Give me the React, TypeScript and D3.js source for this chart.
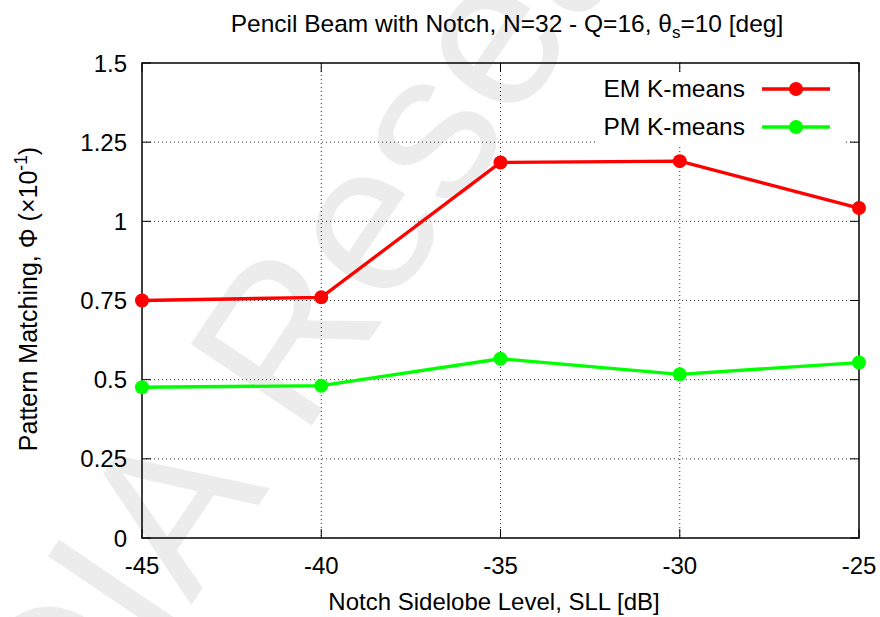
import React from "react";
import * as d3 from "d3";

const xValues = [-45, -40, -35, -30, -25];
const emValues = [0.75, 0.76, 1.186, 1.19, 1.042];
const pmValues = [0.476, 0.481, 0.566, 0.517, 0.554];
const xTicks = [-45, -40, -35, -30, -25];
const yTicks = [0, 0.25, 0.5, 0.75, 1, 1.25, 1.5];
const yTickLabels = ["0", "0.25", "0.5", "0.75", "1", "1.25", "1.5"];
const seriesNames = ["EM K-means", "PM K-means"];
const seriesColors = ["#ff0000", "#00ff00"];

const W = 880;
const H = 617;
const m = { left: 142, right: 859, top: 63, bottom: 538 };
const FONT = "'Liberation Sans', Arial, Helvetica, sans-serif";

export default function App() {
  const x = d3.scaleLinear().domain([-45, -25]).range([m.left, m.right]);
  const y = d3.scaleLinear().domain([0, 1.5]).range([m.bottom, m.top]);
  const line = d3
    .line<number>()
    .x((_, i) => x(xValues[i]))
    .y((d) => y(d));
  const series = [emValues, pmValues];
  const tickLen = 9;

  return (
    <svg
      width={W}
      height={H}
      style={{ position: "absolute", left: 0, top: 0, background: "#fff" }}
      fontFamily={FONT}
    >
      <rect x={0} y={0} width={W} height={H} fill="#fff" />
      {/* watermark */}
      <text
        transform="translate(302,440) rotate(-56)"
        fontSize={212}
        fill="#ececec"
        fontFamily={FONT}
      >
        Research
      </text>
      <text
        transform="translate(270,488) rotate(-56)"
        fontSize={212}
        fill="#ececec"
        textAnchor="end"
        fontFamily={FONT}
      >
        ELEDIA
      </text>

      {/* grid */}
      <g stroke="#333" strokeWidth={1} strokeDasharray="1,3">
        {xTicks.slice(1, -1).map((t) => (
          <line key={"gx" + t} x1={x(t)} x2={x(t)} y1={m.top} y2={m.bottom} />
        ))}
        {yTicks.slice(1, -1).map((t) => (
          <line key={"gy" + t} x1={m.left} x2={m.right} y1={y(t)} y2={y(t)} />
        ))}
      </g>

      {/* legend background */}
      <rect x={597} y={72} width={248} height={73} fill="#fff" />

      {/* ticks */}
      <g stroke="#000" strokeWidth={1}>
        {xTicks.map((t) => (
          <g key={"tx" + t}>
            <line x1={x(t)} x2={x(t)} y1={m.bottom} y2={m.bottom - tickLen} />
            <line x1={x(t)} x2={x(t)} y1={m.top} y2={m.top + tickLen} />
          </g>
        ))}
        {yTicks.map((t) => (
          <g key={"ty" + t}>
            <line x1={m.left} x2={m.left + tickLen} y1={y(t)} y2={y(t)} />
            <line x1={m.right} x2={m.right - tickLen} y1={y(t)} y2={y(t)} />
          </g>
        ))}
      </g>

      {/* frame */}
      <rect
        x={m.left}
        y={m.top}
        width={m.right - m.left}
        height={m.bottom - m.top}
        fill="none"
        stroke="#000"
        strokeWidth={1.5}
      />

      {/* tick labels */}
      <g fontSize={24} fill="#000">
        {xTicks.map((t) => (
          <text key={"lx" + t} x={x(t)} y={574} textAnchor="middle">
            {t}
          </text>
        ))}
        {yTicks.map((t, i) => (
          <text key={"ly" + t} x={127} y={y(t) + 8.5} textAnchor="end">
            {yTickLabels[i]}
          </text>
        ))}
      </g>

      {/* series */}
      {series.map((s, si) => (
        <g key={"s" + si}>
          <path d={line(s) || ""} fill="none" stroke={seriesColors[si]} strokeWidth={3.3} />
          {s.map((v, i) => (
            <circle key={i} cx={x(xValues[i])} cy={y(v)} r={7} fill={seriesColors[si]} />
          ))}
        </g>
      ))}

      {/* legend */}
      {seriesNames.map((n, i) => {
        const ly = 89 + i * 38;
        return (
          <g key={"lg" + i}>
            <text x={745} y={ly + 8} fontSize={24.5} textAnchor="end" fill="#000">
              {n}
            </text>
            <line x1={762} x2={830} y1={ly} y2={ly} stroke={seriesColors[i]} strokeWidth={3.3} />
            <circle cx={796} cy={ly} r={7} fill={seriesColors[i]} />
          </g>
        );
      })}

      {/* title */}
      <text x={507} y={32} fontSize={24.5} textAnchor="middle" fill="#000">
        Pencil Beam with Notch, N=32 - Q=16, θ
        <tspan fontSize={17} dy={6}>s</tspan>
        <tspan dy={-6}>=10 [deg]</tspan>
      </text>

      {/* x axis title */}
      <text x={494} y={610} fontSize={24} textAnchor="middle" fill="#000">
        Notch Sidelobe Level, SLL [dB]
      </text>

      {/* y axis title */}
      <text
        transform="translate(37,299) rotate(-90)"
        fontSize={25}
        textAnchor="middle"
        fill="#000"
      >
        Pattern Matching, Φ (×10
        <tspan fontSize={17.5} dy={-10}>-1</tspan>
        <tspan dy={10}>)</tspan>
      </text>
    </svg>
  );
}
